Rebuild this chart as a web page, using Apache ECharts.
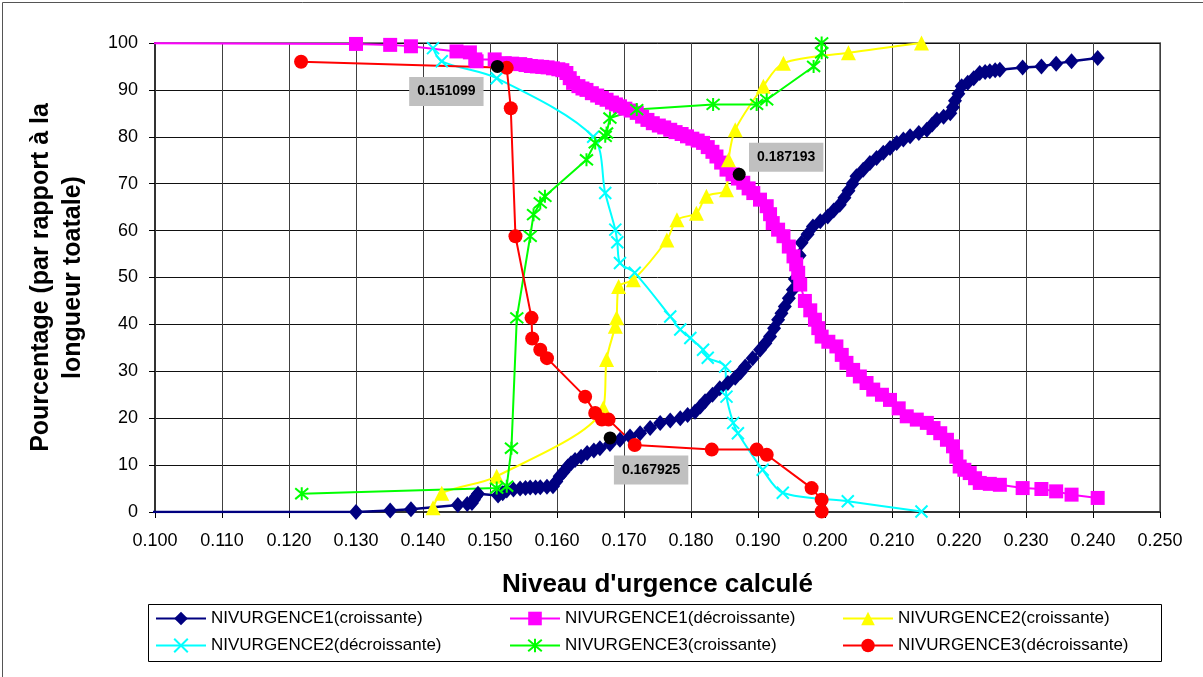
<!DOCTYPE html>
<html>
<head>
<meta charset="utf-8">
<title>Niveau d'urgence</title>
<script src="https://cdn.jsdelivr.net/npm/echarts@6/dist/echarts.min.js"></script>
<style>
  html, body { margin: 0; padding: 0; background: #fff; }
  #main { width: 1203px; height: 677px; }
</style>
</head>
<body>
<div id="main"></div>
<script>
// NIVURGENCE1 (croissante)
var n1cX = [0.09, 0.130, 0.1351, 0.1382, 0.1452, 0.1466, 0.1473, 0.1476, 0.1479, 0.1482, 0.1512, 0.1519, 0.1525, 0.1535, 0.1545, 0.1553, 0.156, 0.1568, 0.1575, 0.1585, 0.1594, 0.1599, 0.1604, 0.161, 0.1616, 0.1621, 0.1627, 0.1636, 0.1645, 0.1655, 0.1664, 0.1679, 0.1694, 0.1709, 0.1724, 0.1739, 0.1754, 0.1769, 0.1784, 0.1795, 0.1806, 0.1814, 0.1821, 0.1832, 0.1843, 0.1855, 0.1866, 0.1874, 0.1881, 0.1892, 0.1903, 0.1911, 0.1918, 0.1924, 0.193, 0.1935, 0.194, 0.1946, 0.1952, 0.1955, 0.1958, 0.1962, 0.1965, 0.1974, 0.1982, 0.1993, 0.2004, 0.2013, 0.2022, 0.2029, 0.2035, 0.2041, 0.2047, 0.2057, 0.2067, 0.2077, 0.2087, 0.2097, 0.2107, 0.2117, 0.2127, 0.214, 0.2152, 0.216, 0.2167, 0.2177, 0.2187, 0.2191, 0.2194, 0.2199, 0.2204, 0.2213, 0.2222, 0.2231, 0.2239, 0.2246, 0.2254, 0.2261, 0.2295, 0.2323, 0.2345, 0.2368, 0.2407]
var n1cY = [0, 0, 0.3, 0.6, 1.5, 1.7, 1.9, 2.6, 3.3, 3.9, 3.5, 4.0, 4.6, 4.8, 5.0, 5.1, 5.2, 5.2, 5.3, 5.4, 5.5, 6.5, 7.6, 8.6, 9.7, 10.4, 11.1, 11.8, 12.6, 13.1, 13.6, 14.5, 15.4, 16.1, 16.8, 17.9, 19, 19.5, 20, 20.7, 21.4, 22.5, 23.6, 25, 26.4, 27.5, 28.6, 29.8, 31, 32.8, 34.6, 36, 37.4, 39.2, 41, 42.4, 43.8, 45.6, 47.4, 49.7, 52, 54.7, 57.4, 59.2, 60.9, 62, 63, 64.3, 65.5, 67, 68.5, 70, 71.6, 73, 74.4, 75.5, 76.6, 77.6, 78.7, 79.4, 80.1, 80.8, 81.5, 82.6, 83.7, 84.3, 85, 86.3, 87.7, 89.2, 90.8, 91.5, 92.5, 93.6, 93.8, 94, 94.2, 94.3, 94.8, 95, 95.6, 96.1, 96.8]

// NIVURGENCE1 (décroissante)
var n1dX = [0.09, 0.130, 0.1351, 0.1382, 0.145, 0.147, 0.1478, 0.148, 0.1507, 0.1522, 0.1533, 0.1545, 0.1553, 0.1561, 0.157, 0.1578, 0.1586, 0.1594, 0.1602, 0.1608, 0.1614, 0.1619, 0.1624, 0.1632, 0.1638, 0.1644, 0.1652, 0.166, 0.1667, 0.1674, 0.1682, 0.1688, 0.1694, 0.1702, 0.171, 0.1719, 0.1727, 0.1735, 0.1743, 0.1752, 0.176, 0.1769, 0.1777, 0.1786, 0.1794, 0.1802, 0.181, 0.1818, 0.1825, 0.1832, 0.1838, 0.1845, 0.1853, 0.1862, 0.187, 0.1878, 0.1886, 0.1893, 0.1903, 0.1913, 0.1918, 0.1922, 0.193, 0.1938, 0.1946, 0.1953, 0.1957, 0.196, 0.1963, 0.197, 0.1978, 0.1985, 0.199, 0.1995, 0.2005, 0.2017, 0.2025, 0.2032, 0.2042, 0.2052, 0.2062, 0.2072, 0.2085, 0.2097, 0.211, 0.2122, 0.2137, 0.2152, 0.2162, 0.2172, 0.2182, 0.2191, 0.2196, 0.2201, 0.2208, 0.2216, 0.2224, 0.2231, 0.2246, 0.2261, 0.2295, 0.2323, 0.2345, 0.2368, 0.2407]
var n1dY = [100, 99.8, 99.6, 99.3, 98.2, 98, 96.5, 96.1, 96.5, 95.7, 95.6, 95.5, 95.3, 95.1, 95, 94.9, 94.8, 94.6, 94.4, 94.2, 93.6, 92.5, 91.5, 90.8, 90.3, 90, 89.3, 88.8, 88.3, 87.9, 87.3, 86.9, 86.5, 86, 85.6, 85.1, 84.3, 83.6, 82.9, 82.4, 82, 81.5, 81, 80.6, 80.1, 79.6, 79.2, 78.7, 77.8, 76.8, 75.8, 74.5, 73, 72, 71.1, 70.2, 69, 68, 66.6, 65.2, 63.5, 61.6, 60.2, 58.8, 56.6, 54.5, 52.8, 51, 48.5, 45, 43, 41, 39.2, 37.4, 36.3, 35.3, 33.5, 31.8, 30.3, 28.9, 27.5, 26.1, 25, 23.9, 22.1, 20.4, 19.7, 19, 17.9, 16.8, 15.4, 14, 11.8, 9.7, 9, 8.3, 7.2, 6.2, 6, 5.8, 5.1, 4.9, 4.4, 3.7, 3.0]

// NIVURGENCE2 (croissante)
var n2cX = [0.1415, 0.1428, 0.151, 0.1669, 0.1674, 0.1687, 0.1689, 0.1692, 0.1714, 0.1764, 0.1779, 0.1808, 0.1823, 0.1853, 0.1856, 0.1866, 0.1908, 0.1938, 0.2035, 0.2144]
var n2cY = [0.9, 4, 7.6, 22.2, 32.5, 39.6, 41.4, 48.1, 49.5, 58, 62.3, 63.7, 67.3, 68.7, 75.1, 81.5, 90.8, 95.7, 97.9, 100]

// NIVURGENCE2 (décroissante)
var n2dX = [0.1415, 0.1428, 0.151, 0.1654, 0.1672, 0.1687, 0.169, 0.1694, 0.1716, 0.1769, 0.1784, 0.1799, 0.1818, 0.1825, 0.1851, 0.1853, 0.1863, 0.187, 0.1907, 0.1937, 0.2034, 0.2144]
var n2dY = [98.9, 96.1, 92.5, 80, 68, 60.2, 57.5, 53.1, 51, 41.7, 38.9, 37.1, 34.6, 32.9, 31, 24.6, 19, 16.8, 9, 4.1, 2.3, 0.1]

// NIVURGENCE3 (croissante)
var n3cX = [0.1219, 0.151, 0.1525, 0.1532, 0.154, 0.156, 0.1565, 0.1575, 0.1582, 0.1644, 0.1657, 0.1672, 0.1674, 0.1679, 0.1719, 0.1833, 0.1898, 0.1913, 0.1983, 0.1995, 0.1995]
var n3cY = [3.9, 5.1, 5.5, 13.6, 41.4, 58.8, 63.4, 65.9, 67.3, 75.1, 78.7, 80.1, 80.8, 84, 85.8, 86.9, 86.9, 87.9, 95, 97.9, 100]

// NIVURGENCE3 (décroissante)
var n3dX = [0.1218, 0.1525, 0.1531, 0.1538, 0.1562, 0.1563, 0.1575, 0.1585, 0.1642, 0.1657, 0.1667, 0.1677, 0.1716, 0.1831, 0.1898, 0.1913, 0.198, 0.1995, 0.1995]
var n3dY = [96, 94.7, 86.1, 58.8, 41.4, 37, 34.6, 32.8, 24.6, 21.1, 19.7, 19.7, 14.3, 13.3, 13.3, 12.2, 5.1, 2.6, 0.1]

// points marqués
var markX = [0.151099, 0.187193, 0.167925]
var markY = [95, 72, 15.8]
var markOffset = [[-51, 25], [47, -17], [41, 32]]

var xTicks = { min: 0.1, max: 0.25, interval: 0.01 }
var yTicks = { min: 0, max: 100, interval: 10 }

var FONT = '"Liberation Sans", Arial, sans-serif'
var CROSS = 'path://M0,0L10,10M10,0L0,10'
var STAR = 'path://M0,0L10,10M10,0L0,10M5,-1L5,11'

function zip(xs, ys) {
  return xs.map(function(x, i) { return [x, ys[i]] })
}

function lineSeries(name, xs, ys, color, symbol, size, opts) {
  var s = {
    name: name,
    type: 'line',
    data: zip(xs, ys),
    symbol: symbol,
    symbolSize: size,
    showAllSymbol: true,
    clip: true,
    lineStyle: { color: color, width: 2 },
    itemStyle: { color: color, opacity: 1 },
    emphasis: { disabled: true }
  }
  if (symbol.indexOf('path://') === 0) {
    s.itemStyle = { color: color, borderColor: color, borderWidth: 2, opacity: 1 }
  }
  return Object.assign(s, opts || {})
}

var names = [
  'NIVURGENCE1(croissante)', 'NIVURGENCE1(décroissante)', 'NIVURGENCE2(croissante)',
  'NIVURGENCE2(décroissante)', 'NIVURGENCE3(croissante)', 'NIVURGENCE3(décroissante)'
]
var legendPos = [[155, 610], [509, 610], [842, 610], [155, 637], [509, 637], [842, 637]]

var chart = echarts.init(document.getElementById('main'))

var option = {
  animation: false,
  backgroundColor: '#fff',
  textStyle: { fontFamily: FONT },
  grid: { left: 155, top: 43, right: 43, bottom: 165, containLabel: false,
    show: true, borderColor: '#808080', borderWidth: 2 },
  legend: names.map(function(n, i) {
    return {
      data: [n],
      left: legendPos[i][0],
      top: legendPos[i][1],
      padding: 0,
      itemWidth: 50,
      itemHeight: 17,
      selectedMode: false,
      textStyle: { fontSize: 17, color: '#000', fontFamily: FONT }
    }
  }),
  xAxis: {
    type: 'value',
    min: xTicks.min,
    max: xTicks.max,
    interval: xTicks.interval,
    name: "Niveau d'urgence calculé",
    nameLocation: 'middle',
    nameGap: 60,
    nameTextStyle: { fontSize: 26, fontWeight: 'bold', color: '#000', fontFamily: FONT },
    axisLine: { show: true, onZero: false, lineStyle: { color: '#333', width: 2 } },
    axisTick: { show: true, length: 6, lineStyle: { color: '#000' } },
    axisLabel: { fontSize: 18, color: '#000', margin: 20,
      formatter: function(v) { return v.toFixed(3) } },
    splitLine: { show: true, lineStyle: { color: '#404040', width: 1 } }
  },
  yAxis: {
    type: 'value',
    min: yTicks.min,
    max: yTicks.max,
    interval: yTicks.interval,
    name: 'Pourcentage (par rapport à la\nlongueur toatale)',
    nameLocation: 'middle',
    nameRotate: 90,
    nameGap: 66,
    nameTextStyle: { fontSize: 25, fontWeight: 'bold', color: '#000', lineHeight: 32, fontFamily: FONT },
    axisLine: { show: true, onZero: false, lineStyle: { color: '#333', width: 2 } },
    axisTick: { show: true, length: 6, lineStyle: { color: '#000' } },
    axisLabel: { fontSize: 18, color: '#000', margin: 17 },
    splitLine: { show: true, lineStyle: { color: '#111', width: 1 } }
  },
  graphic: [
    { type: 'rect', left: 0, top: 0, z: -10, silent: true,
      shape: { x: 0.5, y: 0.5, width: 1201, height: 675 },
      style: { fill: 'none', stroke: '#555', lineWidth: 1 } },
    { type: 'rect', z: -5, silent: true,
      shape: { x: 148.5, y: 604.5, width: 1013, height: 57 },
      style: { fill: '#fff', stroke: '#000', lineWidth: 1 } }
  ],
  series: [
    lineSeries(names[0], n1cX, n1cY, '#000080', 'diamond', [14, 16], { lineStyle: { color: '#000080', width: 2.5 } }),
    lineSeries(names[1], n1dX, n1dY, '#FF00FF', 'rect', 14),
    lineSeries(names[2], n2cX, n2cY, '#FFFF00', 'triangle', 15, { smooth: 0.3 }),
    lineSeries(names[3], n2dX, n2dY, '#00FFFF', CROSS, 12, { smooth: 0.3 }),
    lineSeries(names[4], n3cX, n3cY, '#00FF00', STAR, 13),
    lineSeries(names[5], n3dX, n3dY, '#FF0000', 'circle', 14),
    {
      name: 'points',
      type: 'scatter',
      symbolSize: 13,
      z: 5,
      itemStyle: { color: '#000', opacity: 1 },
      data: zip(markX, markY).map(function(p, i) {
        return {
          value: p,
          label: { offset: markOffset[i] }
        }
      }),
      label: {
        show: true,
        position: 'inside',
        formatter: function(p) { return p.value[0].toFixed(6) },
        backgroundColor: '#C0C0C0',
        padding: [8, 8, 7, 8],
        fontSize: 14,
        fontWeight: 'bold',
        color: '#000',
        fontFamily: FONT
      },
      emphasis: { disabled: true }
    }
  ]
}

chart.setOption(option)
</script>
</body>
</html>
